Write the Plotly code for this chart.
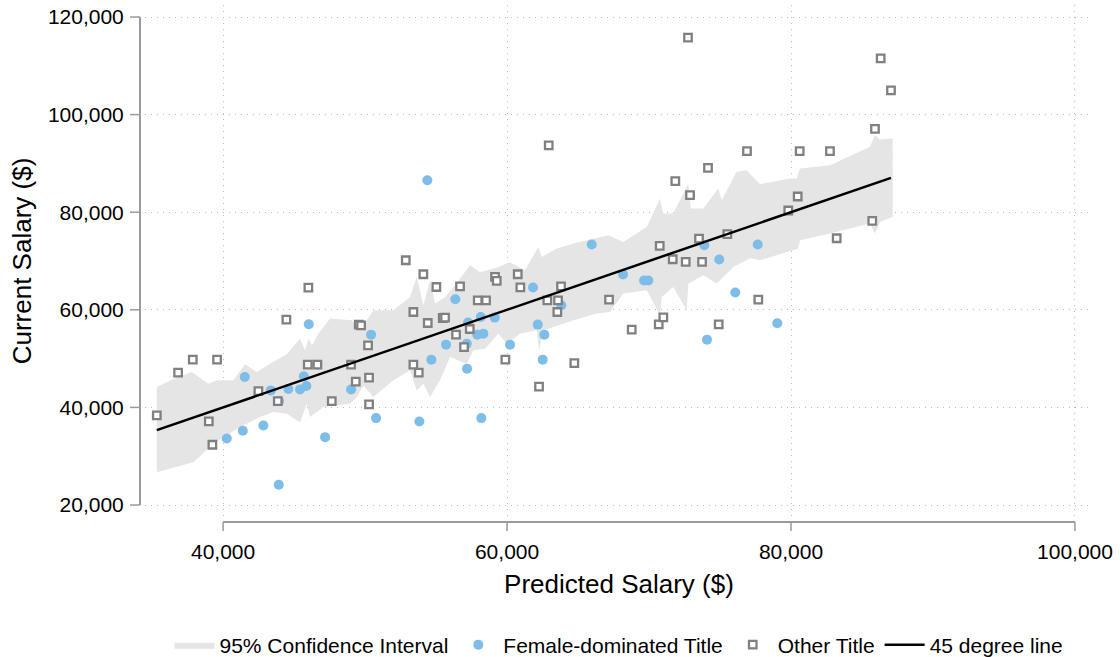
import plotly.graph_objects as go

# ---------------- data ----------------
# Female-dominated titles (predicted, current)
female_pred = [41528, 40261, 41387, 42838, 43359, 43944, 44598, 45422, 45683, 45866,
               46035, 46641, 43922, 47183, 49014, 50422, 50775, 53824, 54669, 55704,
               56359, 57253, 57162, 57182, 58147, 57908, 58331, 59133, 58189, 60211,
               61831, 62161, 62626, 62513, 63823, 68169, 69648, 69951, 74950, 76077,
               74084, 79034, 54386, 65964, 73893, 77655]
female_curr = [46215, 33640, 35220, 36307, 43487, 41292, 43753, 43692, 46358, 44368,
               57025, 48758, 24143, 33907, 43692, 54912, 37804, 37127, 49784, 52861,
               62153, 57374, 53066, 47938, 58523, 54912, 55117, 58399, 37804, 52861,
               64553, 56964, 54912, 49784, 60923, 67220, 65989, 65989, 70297, 63528,
               53887, 57230, 86564, 73374, 73230, 73374]

# Other titles (predicted, current)
other_pred = [35331, 36831, 37866, 39577, 38993, 39247, 42486, 43852, 44458, 46007,
              45965, 46641, 47655, 49014, 49345, 49556, 49718, 50211, 50281, 50281,
              52866, 54105, 55021, 53401, 54415, 55471, 55633, 53401, 53781, 56690,
              56408, 56971, 57373, 57936, 58520, 59154, 59274, 60753, 60936, 59880,
              62253, 62837, 63591, 63802, 63542, 64739, 67183, 68781, 70683, 71007,
              71669, 72584, 73732, 74908, 77697, 72745, 62936, 76900, 74154, 71851,
              72887, 70753, 73521, 75514, 86315, 87041, 85914, 80611, 82745, 80470,
              79808, 85723, 83217]
other_curr = [38358, 47117, 49784, 49784, 37127, 32348, 43343, 41292, 57989, 64553,
              48758, 48758, 41292, 48758, 45271, 56964, 56820, 52717, 46092, 40615,
              70153, 67282, 64676, 59548, 57292, 58317, 58400, 48758, 47117, 64820,
              54912, 52368, 56061, 61948, 61948, 66728, 65907, 67282, 64615, 49784,
              44245, 61948, 61948, 64820, 59548, 49087, 62092, 55938, 57025, 58461,
              70359, 69805, 69805, 57025, 62092, 115754, 93682, 92513, 89087, 86359,
              83487, 73087, 74605, 75487, 111528, 104964, 97087, 92513, 92513, 83220,
              80348, 78215, 74666]

# 95% confidence interval band (upper and lower edges)
ci_upper_x = [35331, 36620, 37796, 38965, 39556, 40725, 41549, 42373, 43310, 44486,
              45422, 45774, 46007, 46267, 46711, 47535, 49063, 49648, 50584, 51992,
              53169, 53640, 54105, 54577, 54929, 55633, 56337, 57394, 58098, 59154,
              60211, 61267, 62203, 62443, 63499, 64668, 67133, 68189, 69837, 70773,
              71006, 71710, 72767, 72936, 73823, 74880, 75119, 76175, 76879, 77815,
              79928, 80400, 80632, 82745, 85562, 85914, 86266, 87160]
ci_upper_y = [44163, 45948, 47240, 44861, 45538, 45538, 48820, 47240, 48963, 50871,
              54092, 51692, 54092, 52717, 55117, 58194, 57846, 55794, 59897, 59897,
              62625, 66728, 60923, 66051, 61271, 62625, 65025, 69128, 67692, 68512,
              69743, 68102, 72882, 70830, 72553, 73579, 75282, 73907, 76984, 82810,
              79733, 79733, 85887, 80759, 80759, 84861, 82461, 88266, 88615, 85743,
              86913, 86913, 88964, 89641, 93395, 95795, 94913, 95118]
ci_lower_x = [35331, 37909, 38944, 40021, 41197, 42605, 43542, 44486, 45422, 45894,
              46127, 47063, 48944, 49415, 49880, 50584, 51992, 53169, 53640, 54105,
              54577, 55281, 55985, 57162, 57626, 58450, 59387, 59978, 60915, 62091,
              62253, 62556, 63260, 64668, 66316, 67253, 68189, 69837, 70773, 70893,
              71710, 72654, 72767, 73823, 74767, 75936, 77111, 77815, 80513, 80632,
              82745, 85562, 85914, 86266, 87160]
ci_lower_y = [26727, 28779, 31589, 33907, 35958, 38010, 39035, 38707, 36922, 40758,
              38010, 40061, 40758, 42112, 44512, 42112, 45538, 47589, 43487, 44861,
              42112, 45538, 50317, 48963, 51692, 52040, 55117, 53066, 55117, 55794,
              51692, 55794, 56471, 57846, 59220, 59548, 63323, 64000, 58871, 62625,
              64676, 59897, 65374, 67076, 65374, 68779, 70564, 70153, 72553, 74256,
              75630, 77682, 75630, 78010, 79036]

x_ticks = [40000, 60000, 80000, 100000]
x_tick_text = ["40,000", "60,000", "80,000", "100,000"]
y_ticks = [20000, 40000, 60000, 80000, 100000, 120000]
y_tick_text = ["20,000", "40,000", "60,000", "80,000", "100,000", "120,000"]

# ---------------- figure ----------------
FONT = "Liberation Sans, Arial, Helvetica, sans-serif"
all_pred = female_pred + other_pred
line_x = [min(all_pred), max(all_pred)]

band_x = ci_upper_x + ci_lower_x[::-1]
band_y = ci_upper_y + ci_lower_y[::-1]

fig = go.Figure()
fig.add_trace(go.Scatter(
    x=band_x, y=band_y, mode="lines", fill="toself",
    fillcolor="#e5e5e5", line=dict(width=0, color="#e5e5e5"),
    name="95% Confidence Interval", hoverinfo="skip"))
fig.add_trace(go.Scatter(
    x=female_pred, y=female_curr, mode="markers", name="Female-dominated Title",
    marker=dict(symbol="circle", size=10, color="#7dbde8", line=dict(width=0))))
fig.add_trace(go.Scatter(
    x=other_pred, y=other_curr, mode="markers", name="Other Title",
    marker=dict(symbol="square", size=7.5, color="white",
                line=dict(width=2.3, color="#808080"))))
fig.add_trace(go.Scatter(
    x=line_x, y=line_x, mode="lines", name="45 degree line",
    line=dict(color="black", width=2.5)))

# plot-area geometry (px): left 145, right 1093, top 5, bottom 517
W, H = 1120, 657
L, R, T, B = 145, 1093, 5, 517
pw, ph = R - L, B - T

def px_x(p):  # pixel x -> paper
    return (p - L) / pw

def px_y(p):  # pixel y -> paper
    return (B - p) / ph

axis_col = "#9a9a9a"
shapes = []
# y axis line and ticks (offset to the left of the plot region)
shapes.append(dict(type="line", xref="paper", yref="y",
                   x0=px_x(140), x1=px_x(140), y0=y_ticks[0], y1=y_ticks[-1],
                   line=dict(color=axis_col, width=2)))
for v in y_ticks:
    shapes.append(dict(type="line", xref="paper", yref="y",
                       x0=px_x(130), x1=px_x(140), y0=v, y1=v,
                       line=dict(color=axis_col, width=1.5)))
# x axis line and ticks (offset below the plot region)
shapes.append(dict(type="line", xref="x", yref="paper",
                   x0=x_ticks[0], x1=x_ticks[-1], y0=px_y(522), y1=px_y(522),
                   line=dict(color=axis_col, width=2)))
for v in x_ticks:
    shapes.append(dict(type="line", xref="x", yref="paper",
                       x0=v, x1=v, y0=px_y(522), y1=px_y(531),
                       line=dict(color=axis_col, width=1.5)))

grid_col = "#b9b9b9"
fig.update_layout(
    width=W, height=H,
    margin=dict(l=L, r=W - R, t=T, b=H - B, autoexpand=False),
    paper_bgcolor="white", plot_bgcolor="white",
    font=dict(family=FONT, size=21, color="black"),
    showlegend=True,
    legend=dict(orientation="h", x=0.5, xanchor="center", y=px_y(645),
                yanchor="middle", font=dict(size=21), itemwidth=40,
                traceorder="normal"),
    xaxis=dict(range=[34500, 101270], tickvals=x_ticks, ticktext=x_tick_text,
               showgrid=True, gridcolor=grid_col, griddash="1px,5px", gridwidth=1,
               zeroline=False, showline=False, ticks="outside", ticklen=16,
               tickcolor="rgba(0,0,0,0)", tickfont=dict(size=21), automargin=False,
               title=dict(text="Predicted Salary ($)", font=dict(size=26), standoff=12)),
    yaxis=dict(range=[17540, 122460], tickvals=y_ticks, ticktext=y_tick_text,
               showgrid=True, gridcolor=grid_col, griddash="1px,5px", gridwidth=1,
               zeroline=False, showline=False, ticks="outside", ticklen=16,
               tickcolor="rgba(0,0,0,0)", tickfont=dict(size=21), automargin=False,
               title=dict(text="Current Salary ($)", font=dict(size=26), standoff=8)),
    shapes=shapes,
)

fig.write_html("out.html", config={"displayModeBar": False})

# remove the browser's default page margin so the figure sits at (0, 0)
with open("out.html", "r", encoding="utf-8") as f:
    html = f.read()
html = html.replace("<head>", "<head><style>html,body{margin:0;padding:0;}</style>", 1)
with open("out.html", "w", encoding="utf-8") as f:
    f.write(html)
